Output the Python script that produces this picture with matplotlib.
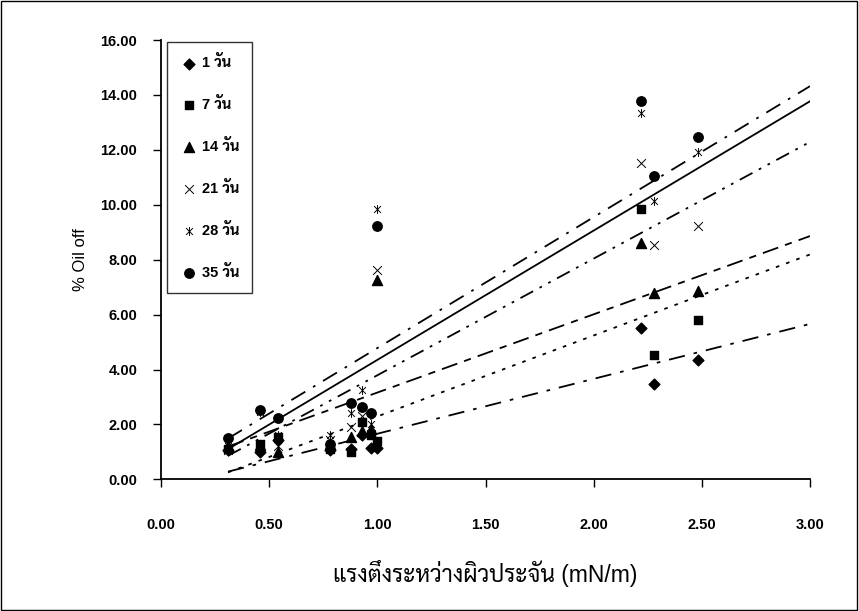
import matplotlib
matplotlib.use("Agg")
import matplotlib.pyplot as plt
import matplotlib.ticker as mtick
from matplotlib.path import Path
from matplotlib.patches import Rectangle
import numpy as np

# ── Fonts: Arial look-alike for digits/latin, a looped Thai family as fallback ──
FONTS = ["Liberation Sans", "Sarabun", "Noto Sans Thai Looped",
         "IBM Plex Sans Thai Looped", "DejaVu Sans"]
plt.rcParams["font.family"] = FONTS

# ── Data ──
SERIES = ["1 วัน", "7 วัน", "14 วัน", "21 วัน", "28 วัน", "35 วัน"]

x_tension = [0.31, 0.46, 0.54, 0.78, 0.88, 0.93, 0.97, 1.00, 2.22, 2.28, 2.48]

oil_1d  = [1.05, 1.00, 1.45, 1.05, 1.10, 1.60, 1.13, 1.15, 5.50, 3.46, 4.34]
oil_7d  = [1.10, 1.30, 1.55, 1.10, 1.00, 2.10, 1.60, 1.40, 9.84, 4.53, 5.80]
oil_14d = [1.20, 1.25, 1.00, 1.30, 1.55, 1.75, 1.85, 7.26, 8.60, 6.77, 6.86]
oil_21d = [1.07, 1.30, 1.20, 1.45, 1.92, 2.30, 1.65, 7.62, 11.52, 8.52, 9.22]
oil_28d = [1.20, 2.45, 1.60, 1.60, 2.40, 3.25, 2.00, 9.85, 13.34, 10.13, 11.92]
oil_35d = [1.50, 2.52, 2.23, 1.30, 2.77, 2.62, 2.40, 9.22, 13.78, 11.05, 12.47]

# linear trendlines as drawn in the chart (slope, intercept)
trend_slope     = [2.00, 2.95, 2.85, 4.25, 4.77, 4.71]
trend_intercept = [-0.34, -0.66, 0.31, -0.46, 0.01, -0.36]
TREND_END = 3.0

# ── Markers / line styles ──
STAR = Path([(-1, -1), (1, 1), (-1, 1), (1, -1), (0, -1.3), (0, 1.3)],
            [Path.MOVETO, Path.LINETO, Path.MOVETO, Path.LINETO, Path.MOVETO, Path.LINETO])
MARKERS = [
    dict(marker="D", s=30, color="black"),
    dict(marker="s", s=40, color="black"),
    dict(marker="^", s=52, color="black"),
    dict(marker="x", s=40, color="black", linewidths=0.7),
    dict(marker=STAR, s=40, color="black", linewidths=0.7),
    dict(marker="o", s=46, color="black"),
]
LINESTYLES = [
    (0, (9, 5, 2, 5)),            # long dash / short dash
    (0, (2, 4)),                  # dotted
    (0, (9, 4, 4, 4)),            # long dash / dash
    (0, (8, 4, 1.5, 4, 1.5, 4)),  # dash dot dot
    (0, (9, 5, 1.5, 5)),          # dash dot
    "-",
]

series_y = [oil_1d, oil_7d, oil_14d, oil_21d, oil_28d, oil_35d]

# ── Plot ──
fig = plt.figure(figsize=(8.59, 6.11), dpi=100)
ax = fig.add_axes([0.1874, 0.2155, 0.7556, 0.719])

for name, ys, mk, ls, m, b in zip(SERIES, series_y, MARKERS, LINESTYLES,
                                  trend_slope, trend_intercept):
    ax.scatter(x_tension, ys, label=name, zorder=3, **mk)
    xs = np.array([min(x_tension), TREND_END])
    ax.plot(xs, m * xs + b, color="black", linestyle=ls, linewidth=1.3, zorder=2)

ax.set_xlim(0, 3)
ax.set_ylim(0, 16)
ax.set_xticks(np.arange(0, 3.01, 0.5))
ax.set_yticks(np.arange(0, 16.01, 2))
ax.xaxis.set_major_formatter(mtick.FormatStrFormatter("%.2f"))
ax.yaxis.set_major_formatter(mtick.FormatStrFormatter("%.2f"))
for lab in ax.get_xticklabels() + ax.get_yticklabels():
    lab.set_fontweight("bold")
    lab.set_fontsize(10.5)
ax.tick_params(axis="y", direction="out", length=6, width=1, pad=11)
ax.tick_params(axis="x", direction="out", length=6, width=1, pad=22)

for sp in ["top", "right"]:
    ax.spines[sp].set_visible(False)
for sp in ["left", "bottom"]:
    ax.spines[sp].set_linewidth(1.3)

ax.set_ylabel("% Oil off", fontsize=12, labelpad=9)
ax.set_xlabel("แรงตึงระหว่างผิวประจัน (mN/m)", fontsize=16.5, labelpad=20)

leg = ax.legend(loc="upper left", bbox_to_anchor=(0.009, 0.995), frameon=True,
                fancybox=False, edgecolor="black", fontsize=10.5,
                labelspacing=1.85, handletextpad=0.2, borderpad=0.9,
                borderaxespad=0, handlelength=1.3, scatterpoints=1)
leg.get_frame().set_linewidth(1.0)
for t in leg.get_texts():
    t.set_fontweight("bold")

# outer chart border
fig.patches.append(Rectangle((0.001, 0.002), 0.997, 0.996, transform=fig.transFigure,
                             fill=False, edgecolor="black", linewidth=1.0))

fig.savefig("out.png", dpi=100, facecolor="white")
